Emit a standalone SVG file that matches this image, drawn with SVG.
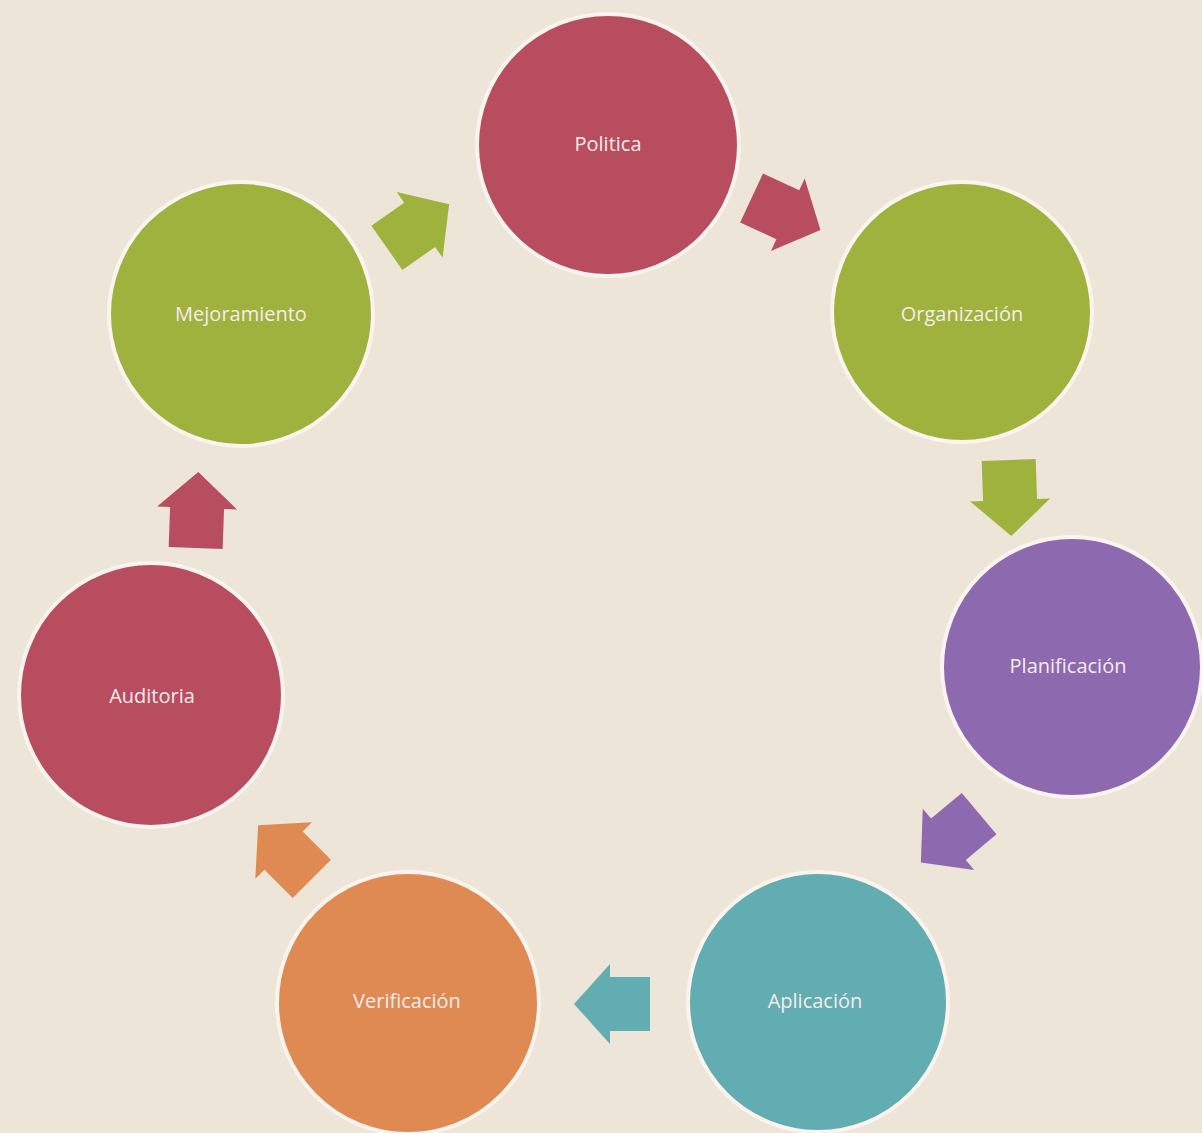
<svg xmlns="http://www.w3.org/2000/svg" width="1202" height="1133" viewBox="0 0 1202 1133">
<style>
.n{stroke:#fbf3ee;stroke-width:4}
.t{font-family:"Open Sans","Liberation Sans",sans-serif;font-size:20px;fill:#f6ecec;text-anchor:middle;dominant-baseline:central}
.red{fill:#b84d5f}
.green{fill:#9fb23e}
.purple{fill:#8d6aaf}
.teal{fill:#62adb1}
.orange{fill:#df8a52}
</style>
<defs>
<polygon id="arr" points="-38,-27 2,-27 2,-40 38,0 2,40 2,27 -38,27"/>
</defs>
<rect width="1202" height="1133" fill="#ece5d8"/>
<g id="connectors">
<use href="#arr" class="green" transform="translate(418,226) rotate(-35)"/>
<use href="#arr" class="red" transform="translate(786,214) rotate(25)"/>
<use href="#arr" class="green" transform="translate(1010,498) rotate(88)"/>
<use href="#arr" class="purple" transform="translate(950,838) rotate(140)"/>
<use href="#arr" class="teal" transform="translate(612,1004) rotate(180)"/>
<use href="#arr" class="orange" transform="translate(285,852) rotate(-135)"/>
<use href="#arr" class="red" transform="translate(197,510) rotate(-88)"/>
</g>
<g id="politica"><circle class="n red" cx="608" cy="145" r="131"/><text class="t" x="608" y="143">Politica</text></g>
<g id="organizacion"><circle class="n green" cx="962" cy="312" r="130"/><text class="t" x="962" y="313">Organización</text></g>
<g id="planificacion"><circle class="n purple" cx="1072" cy="667" r="130"/><text class="t" x="1068" y="665">Planificación</text></g>
<g id="aplicacion"><circle class="n teal" cx="818" cy="1002" r="130"/><text class="t" x="815" y="1000">Aplicación</text></g>
<g id="verificacion"><circle class="n orange" cx="408" cy="1003" r="131"/><text class="t" x="407" y="1000">Verificación</text></g>
<g id="auditoria"><circle class="n red" cx="151" cy="695" r="132"/><text class="t" x="152" y="695">Auditoria</text></g>
<g id="mejoramiento"><circle class="n green" cx="241" cy="314" r="132"/><text class="t" x="241" y="313">Mejoramiento</text></g>
</svg>
